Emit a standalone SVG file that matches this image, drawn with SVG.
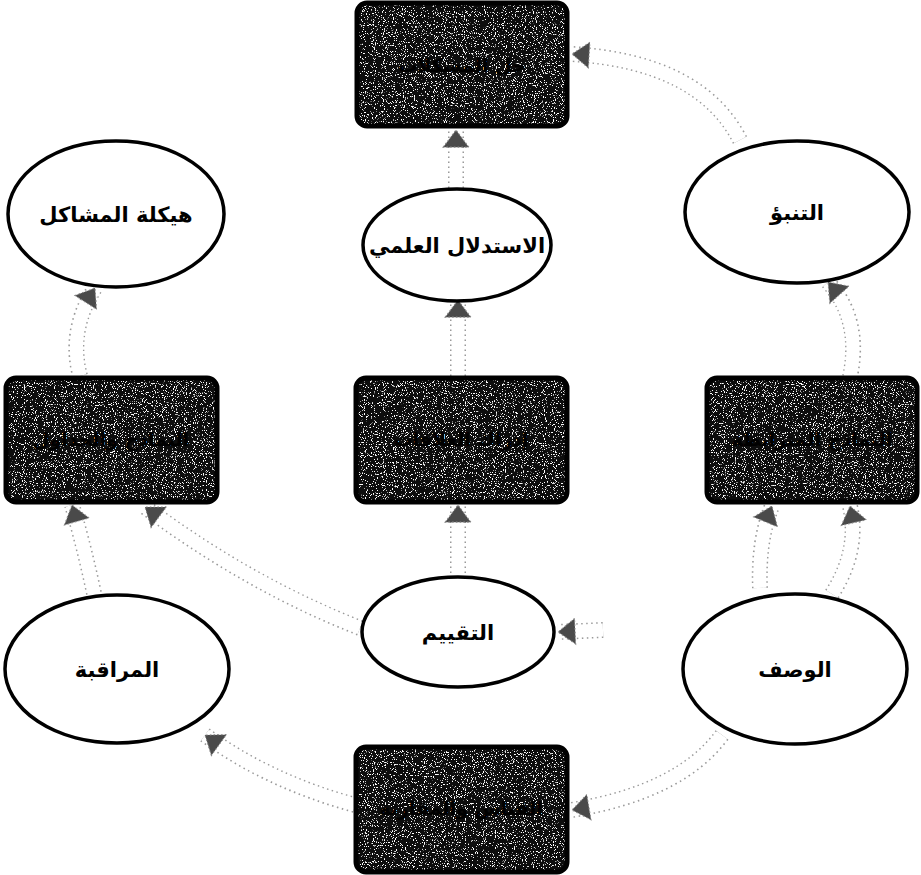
<svg xmlns="http://www.w3.org/2000/svg" width="921" height="875" viewBox="0 0 921 875">
<style>
.box{fill:#0d0d0d;stroke:none;filter:url(#speckle)}
.boxb{fill:none;stroke:#000;stroke-width:5}
.boxt{font-family:"DejaVu Sans",sans-serif;font-weight:bold;font-size:19px;fill:#000;text-anchor:middle}
.ell{fill:#fff;stroke:#000;stroke-width:3.5}
.lbl{font-family:"DejaVu Sans",sans-serif;font-weight:bold;font-size:21px;fill:#000;text-anchor:middle}
.band{fill:none;stroke:#9a9a9a;stroke-width:16;stroke-dasharray:1.5 3.5}
.core{fill:none;stroke:#fff;stroke-width:13;marker-end:url(#head)}
</style>
<defs>
<filter id="speckle" x="0" y="0" width="1" height="1">
<feTurbulence type="fractalNoise" baseFrequency="0.9" numOctaves="2" seed="3" result="n"/>
<feColorMatrix in="n" type="matrix" values="0 0 0 0 1  0 0 0 0 1  0 0 0 0 1  14 0 0 0 -8.6" result="w"/>
<feComposite in="w" in2="SourceGraphic" operator="in" result="wc"/>
<feMerge><feMergeNode in="SourceGraphic"/><feMergeNode in="wc"/></feMerge>
</filter>
<marker id="head" markerUnits="userSpaceOnUse" markerWidth="30" markerHeight="30" viewBox="-2 -14 20 28" refX="16" refY="0" orient="auto">
<polygon points="0,-12 16,0 0,12" fill="#4a4a4a" stroke="#888" stroke-width="1" stroke-dasharray="1.5 2"/>
</marker>
</defs>

<g id="connectors">
<path class="band" d="M740,140 Q700,62 572,54"/><path class="core" d="M740,140 Q700,62 572,54"/>
<path class="band" d="M456,188 L456,130"/><path class="core" d="M456,188 L456,130"/>
<path class="band" d="M458,376 L458,300"/><path class="core" d="M458,376 L458,300"/>
<path class="band" d="M80,376 Q68,330 95,288"/><path class="core" d="M80,376 Q68,330 95,288"/>
<path class="band" d="M95,598 Q85,550 72,505"/><path class="core" d="M95,598 Q85,550 72,505"/>
<path class="band" d="M360,628 Q250,585 145,507"/><path class="core" d="M360,628 Q250,585 145,507"/>
<path class="band" d="M458,578 L458,505"/><path class="core" d="M458,578 L458,505"/>
<path class="band" d="M832,594 Q860,550 850,506"/><path class="core" d="M832,594 Q860,550 850,506"/>
<path class="band" d="M760,588 Q758,540 772,506"/><path class="core" d="M760,588 Q758,540 772,506"/>
<path class="band" d="M850,377 Q862,320 828,282"/><path class="core" d="M850,377 Q862,320 828,282"/>
<path class="band" d="M603,630 L558,632"/><path class="core" d="M603,630 L558,632"/>
<path class="band" d="M722,735 Q680,792 572,810"/><path class="core" d="M722,735 Q680,792 572,810"/>
<path class="band" d="M355,805 Q270,782 205,735"/><path class="core" d="M355,805 Q270,782 205,735"/>
</g>

<g id="box-top"><rect class="box" x="357" y="3" width="210" height="123" rx="10"/><rect class="boxb" x="357" y="3" width="210" height="123" rx="10"/><text class="boxt" x="462" y="72">حل المشكلات</text></g>
<g id="box-left"><rect class="box" x="6" y="378" width="211" height="124" rx="10"/><rect class="boxb" x="6" y="378" width="211" height="124" rx="10"/><text class="boxt" x="111" y="446">النماذج والجداول</text></g>
<g id="box-mid"><rect class="box" x="356" y="378" width="211" height="124" rx="10"/><rect class="boxb" x="356" y="378" width="211" height="124" rx="10"/><text class="boxt" x="461" y="446">إدراك العلاقات</text></g>
<g id="box-right"><rect class="box" x="707" y="378" width="210" height="124" rx="10"/><rect class="boxb" x="707" y="378" width="210" height="124" rx="10"/><text class="boxt" x="812" y="446">النماذج المترابطة</text></g>
<g id="box-bottom"><rect class="box" x="356" y="747" width="211" height="125" rx="10"/><rect class="boxb" x="356" y="747" width="211" height="125" rx="10"/><text class="boxt" x="461" y="815">القياس والمقارنة</text></g>

<g id="n-haykala"><ellipse class="ell" cx="116" cy="214" rx="108" ry="73"/><text class="lbl" x="116" y="222">هيكلة المشاكل</text></g>
<g id="n-istidlal"><ellipse class="ell" cx="457" cy="245" rx="94" ry="56"/><text class="lbl" x="457" y="253">الاستدلال العلمي</text></g>
<g id="n-tanabbu"><ellipse class="ell" cx="797" cy="212" rx="112" ry="71"/><text class="lbl" x="797" y="220">التنبؤ</text></g>
<g id="n-muraqaba"><ellipse class="ell" cx="117" cy="669" rx="112" ry="74"/><text class="lbl" x="117" y="677">المراقبة</text></g>
<g id="n-taqyim"><ellipse class="ell" cx="458" cy="632" rx="96" ry="55"/><text class="lbl" x="458" y="640">التقييم</text></g>
<g id="n-wasf"><ellipse class="ell" cx="795" cy="669" rx="112" ry="75"/><text class="lbl" x="795" y="677">الوصف</text></g>
</svg>
